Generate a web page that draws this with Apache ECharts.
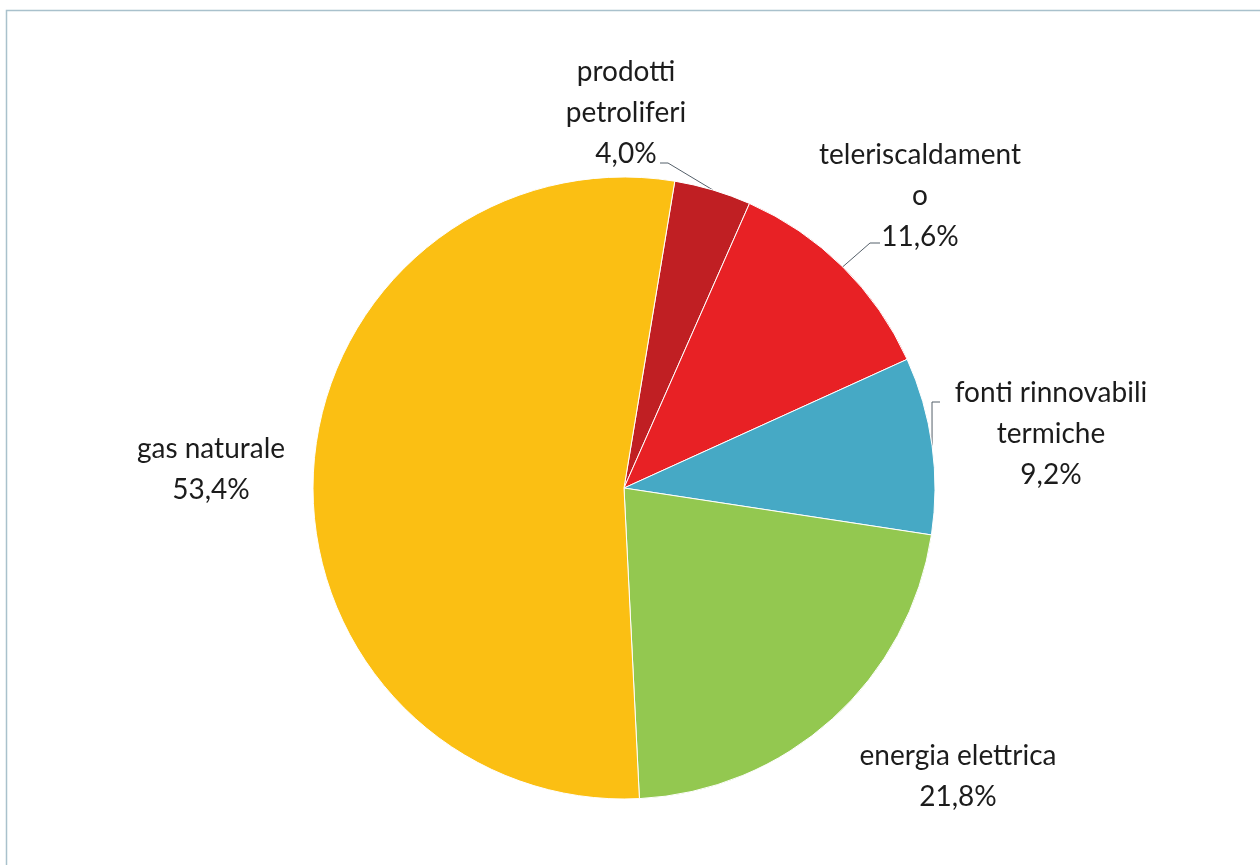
<!DOCTYPE html>
<html>
<head>
<meta charset="utf-8">
<script src="https://cdn.jsdelivr.net/npm/echarts@6/dist/echarts.min.js"></script>
<style>
  html, body { margin: 0; padding: 0; background: #fff; }
  #chart { width: 1260px; height: 865px; }
</style>
</head>
<body>
<div id="chart"></div>
<script>
// Consumi finali per fonte (quote percentuali)
const categories = ['prodotti petroliferi', 'teleriscaldamento', 'fonti rinnovabili termiche', 'energia elettrica', 'gas naturale'];
const labelNames = ['prodotti\npetroliferi', 'teleriscaldament\no', 'fonti rinnovabili\ntermiche', 'energia elettrica', 'gas naturale'];
const shares = [4.0, 11.6, 9.2, 21.8, 53.4];
const sliceColors = ['#C01F23', '#E82125', '#46A9C5', '#93C850', '#FBBF13'];

// label anchors (centre of each text block) and leader-line elbows
const labelSpots = [
  { x: 626, y: 113, line: [[668, 163], [660, 163]] },
  { x: 920, y: 196, line: [[870, 243], [880, 243]] },
  { x: 1051, y: 434, line: [[932, 402], [940, 402]] },
  { x: 958, y: 776, line: null },
  { x: 211, y: 469, line: null }
];

const fmt = v => v.toFixed(1).replace('.', ',') + '%';

const chart = echarts.init(document.getElementById('chart'), null, { renderer: 'canvas' });

chart.setOption({
  backgroundColor: '#ffffff',
  animation: false,
  graphic: [{
    type: 'rect',
    shape: { x: 6.5, y: 10.5, width: 1280, height: 880 },
    style: { fill: 'none', stroke: '#a9c1cc', lineWidth: 1.5 },
    silent: true
  }],
  series: [{
    type: 'pie',
    center: [624, 488],
    radius: 311,
    startAngle: 80.6,
    clockwise: true,
    avoidLabelOverlap: false,
    itemStyle: { borderColor: '#ffffff', borderWidth: 1 },
    label: {
      show: true,
      position: 'outside',
      fontFamily: 'Lato, "Noto Sans", sans-serif',
      fontSize: 28,
      lineHeight: 41,
      color: '#1c1c1c',
      align: 'center',
      formatter: p => labelNames[p.dataIndex] + '\n' + fmt(p.value)
    },
    labelLine: {
      show: true,
      lineStyle: { color: '#55606a', width: 1 }
    },
    labelLayout: params => {
      const spot = labelSpots[params.dataIndex];
      const out = { x: spot.x, y: spot.y, align: 'center', verticalAlign: 'middle' };
      if (spot.line && params.labelLinePoints) {
        out.labelLinePoints = [params.labelLinePoints[0]].concat(spot.line);
      }
      return out;
    },
    data: categories.map((name, i) => ({
      name: name,
      value: shares[i],
      itemStyle: { color: sliceColors[i] },
      labelLine: { show: labelSpots[i].line !== null }
    }))
  }]
});
</script>
</body>
</html>
